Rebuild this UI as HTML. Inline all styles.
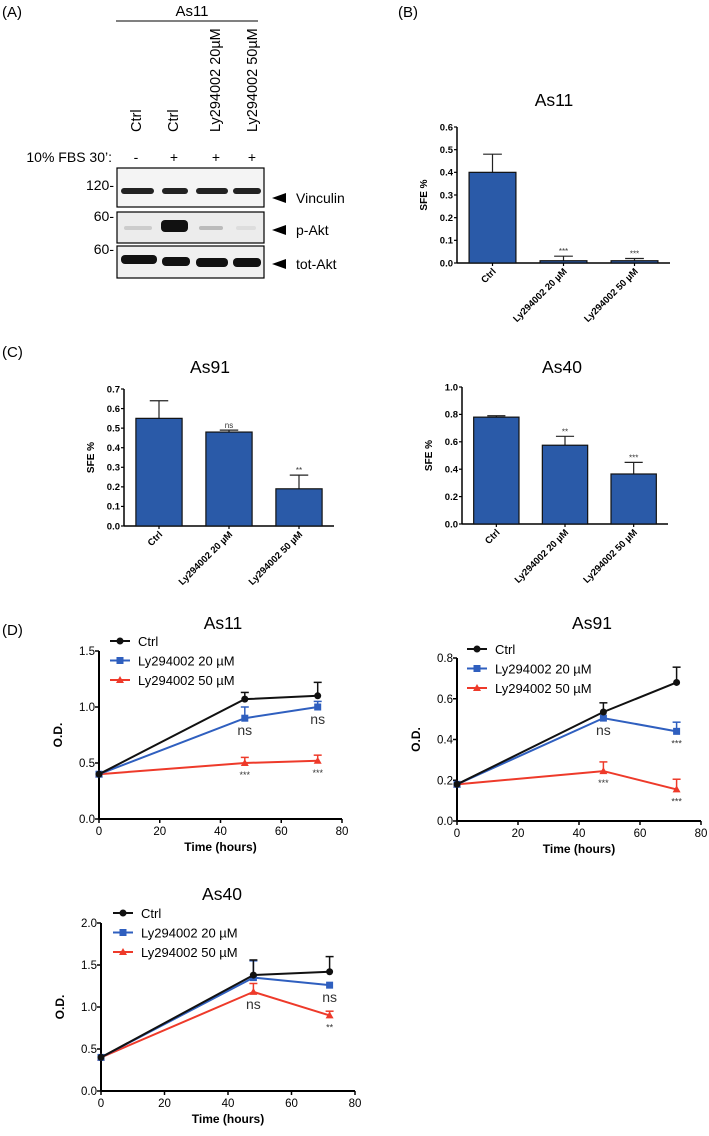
<!DOCTYPE html>
<html><head><meta charset="utf-8"><style>
body{margin:0;background:#fff}
svg{display:block;font-family:"Liberation Sans",Arial,sans-serif}
</style></head><body>
<svg id="fig" width="709" height="1136" viewBox="0 0 709 1136">
<g>
<text x="2" y="17" font-size="15">(A)</text>
<text x="192" y="16" font-size="15" text-anchor="middle">As11</text>
<line x1="116" y1="21" x2="258" y2="21" stroke="#000" stroke-width="1"/>
<g font-size="14.5">
<text transform="translate(141,132) rotate(-90)">Ctrl</text>
<text transform="translate(178,132) rotate(-90)">Ctrl</text>
<text transform="translate(220,132) rotate(-90)">Ly294002 20µM</text>
<text transform="translate(257,132) rotate(-90)">Ly294002 50µM</text>
</g>
<text x="112" y="162" font-size="14" text-anchor="end">10% FBS 30’:</text>
<g font-size="14" text-anchor="middle">
<text x="136" y="162">-</text><text x="174" y="162">+</text><text x="216" y="162">+</text><text x="252" y="162">+</text>
</g>
<g font-size="14" text-anchor="end">
<text x="114" y="190">120-</text><text x="114" y="221">60-</text><text x="114" y="254">60-</text>
</g>
<rect x="117" y="168" width="147" height="39" fill="#f4f4f4" stroke="#000" stroke-width="1.2"/>
<rect x="117" y="212" width="147" height="31" fill="#ececec" stroke="#000" stroke-width="1.2"/>
<rect x="117" y="246" width="147" height="32" fill="#f0f0f0" stroke="#000" stroke-width="1.2"/>
<g>
<rect x="121" y="188" width="33" height="6" rx="3" fill="#222"/><rect x="162" y="188" width="26" height="6" rx="3" fill="#222"/>
<rect x="196" y="188" width="32" height="6" rx="3" fill="#222"/><rect x="233" y="188" width="28" height="6" rx="3" fill="#222"/>
<rect x="124" y="226" width="28" height="4" rx="2" fill="#ccc"/><rect x="161" y="220" width="27" height="12" rx="4" fill="#111"/>
<rect x="199" y="226" width="24" height="4" rx="2" fill="#bbb"/><rect x="236" y="226" width="20" height="4" rx="2" fill="#ddd"/>
<rect x="121" y="255" width="36" height="9" rx="4" fill="#111"/><rect x="162" y="257" width="28" height="9" rx="4" fill="#111"/>
<rect x="196" y="258" width="32" height="9" rx="4" fill="#111"/><rect x="233" y="258" width="28" height="9" rx="4" fill="#111"/>
</g>
<g font-size="14">
<polygon points="272,198 286,193 286,203" fill="#000"/><text x="296" y="203">Vinculin</text>
<polygon points="272,230 286,225 286,235" fill="#000"/><text x="296" y="235">p-Akt</text>
<polygon points="272,264 286,259 286,269" fill="#000"/><text x="296" y="269">tot-Akt</text>
</g>
</g>
<text x="398" y="17" font-size="15">(B)</text>
<text x="2" y="357" font-size="15">(C)</text>
<text x="2" y="635" font-size="15">(D)</text>
<g id="charts"></g>
</svg>
<script>
const barCategories = ["Ctrl", "Ly294002 20 µM", "Ly294002 50 µM"];
const barB_values = [0.40, 0.01, 0.01];
const barB_errors = [0.08, 0.02, 0.01];
const barB_sig = ["", "***", "***"];
const barB_ticks = [0.0, 0.1, 0.2, 0.3, 0.4, 0.5, 0.6];
const barAs91_values = [0.55, 0.48, 0.19];
const barAs91_errors = [0.09, 0.01, 0.07];
const barAs91_sig = ["", "ns", "**"];
const barAs91_ticks = [0.0, 0.1, 0.2, 0.3, 0.4, 0.5, 0.6, 0.7];
const barAs40_values = [0.78, 0.575, 0.365];
const barAs40_errors = [0.01, 0.065, 0.085];
const barAs40_sig = ["", "**", "***"];
const barAs40_ticks = [0.0, 0.2, 0.4, 0.6, 0.8, 1.0];
const times = [0, 48, 72];
const xTicks = [0, 20, 40, 60, 80];
const seriesNames = ["Ctrl", "Ly294002 20 µM", "Ly294002 50 µM"];
const as11_ctrl = [0.40, 1.07, 1.10];
const as11_ctrlErr = [0, 0.06, 0.12];
const as11_ly20 = [0.40, 0.90, 1.00];
const as11_ly20Err = [0, 0.10, 0.05];
const as11_ly50 = [0.40, 0.50, 0.52];
const as11_ly50Err = [0, 0.05, 0.05];
const as11_ly20Sig = ["", "ns", "ns"];
const as11_ly50Sig = ["", "***", "***"];
const as11_yTicks = [0.0, 0.5, 1.0, 1.5];
const as91_ctrl = [0.18, 0.535, 0.68];
const as91_ctrlErr = [0, 0.045, 0.075];
const as91_ly20 = [0.18, 0.505, 0.44];
const as91_ly20Err = [0, 0.0, 0.045];
const as91_ly50 = [0.18, 0.245, 0.155];
const as91_ly50Err = [0, 0.045, 0.05];
const as91_ly20Sig = ["", "ns", "***"];
const as91_ly50Sig = ["", "***", "***"];
const as91_yTicks = [0.0, 0.2, 0.4, 0.6, 0.8];
const as40_ctrl = [0.40, 1.38, 1.42];
const as40_ctrlErr = [0, 0.18, 0.18];
const as40_ly20 = [0.40, 1.35, 1.26];
const as40_ly20Err = [0, 0.2, 0.0];
const as40_ly50 = [0.40, 1.18, 0.90];
const as40_ly50Err = [0, 0.1, 0.05];
const as40_ly20Sig = ["", "", "ns"];
const as40_ly50Sig = ["", "ns", "**"];
const as40_yTicks = [0.0, 0.5, 1.0, 1.5, 2.0];

const NS = "http://www.w3.org/2000/svg";
const root = document.getElementById("charts");
function el(tag, attrs, parent, text) {
  const e = document.createElementNS(NS, tag);
  for (const k in attrs) e.setAttribute(k, attrs[k]);
  if (text !== undefined) e.textContent = text;
  (parent || root).appendChild(e);
  return e;
}

function barChart(cfg, values, errors, sig, ticks) {
  const g = el("g", {});
  
  
  const yMax = ticks[ticks.length - 1];
  const y = v => cfg.y0 - (v / yMax) * (cfg.y0 - cfg.yTop);
  const t = el("text", {x: cfg.titleX, y: cfg.titleY, "font-size": 17.5, "text-anchor": "middle"}, g, cfg.title);
  
  
  el("line", {x1: cfg.ax, y1: cfg.yTop, x2: cfg.ax, y2: cfg.y0, stroke: "#000", "stroke-width": 1.5}, g);
  el("line", {x1: cfg.ax, y1: cfg.y0, x2: cfg.xEnd, y2: cfg.y0, stroke: "#000", "stroke-width": 1.5}, g);
  ticks.forEach(v => {
    el("line", {x1: cfg.ax - 3, y1: y(v), x2: cfg.ax, y2: y(v), stroke: "#000", "stroke-width": 1.2}, g);
    const tl = el("text", {x: cfg.ax - 4, y: y(v) + 3.3, "font-size": 9.5, "font-weight": "bold", "text-anchor": "end"}, g, v.toFixed(1));
    
    
  });
  const yt = el("text", {transform: `translate(${cfg.ax - 30},${(cfg.y0 + cfg.yTop) / 2}) rotate(-90)`, "font-size": 10, "font-weight": "bold", "text-anchor": "middle"}, g, "SFE %");
  
  
  const slot = (cfg.xEnd - cfg.ax) / values.length;
  values.forEach((v, i) => {
    const cx = cfg.ax + slot * (i + 0.5);
    const bw = slot * 0.66;
    const top = y(v + errors[i]);
    el("line", {x1: cx, y1: y(v), x2: cx, y2: top, stroke: "#222", "stroke-width": 1.2}, g);
    el("line", {x1: cx - bw * 0.2, y1: top, x2: cx + bw * 0.2, y2: top, stroke: "#222", "stroke-width": 1.2}, g);
    const b = el("rect", {x: cx - bw / 2, y: y(v), width: bw, height: Math.max(cfg.y0 - y(v), 0.5), fill: "#2a5aa8", stroke: "#111", "stroke-width": 1.2}, g);
    
    
    el("line", {x1: cx, y1: cfg.y0, x2: cx, y2: cfg.y0 + 3, stroke: "#000", "stroke-width": 1.2}, g);
    if (sig[i]) {
      const s = el("text", {x: cx, y: top - 2, "font-size": 8, "text-anchor": "middle", fill: "#333"}, g, sig[i]);
      
      
    }
    const xl = el("text", {transform: `translate(${cx + 4},${cfg.y0 + 9}) rotate(-45)`, "font-size": 9.5, "font-weight": "bold", "text-anchor": "end"}, g, barCategories[i]);
    
    
  });
}

const colors = ["#111111", "#2f5fbf", "#ee3a2a"];
function marker(g, k, x, y) {
  if (k === 0) el("circle", {cx: x, cy: y, r: 3.5, fill: colors[0]}, g);
  else if (k === 1) el("rect", {x: x - 3.5, y: y - 3.5, width: 7, height: 7, fill: colors[1]}, g);
  else el("polygon", {points: `${x},${y - 4} ${x - 4},${y + 3} ${x + 4},${y + 3}`, fill: colors[2]}, g);
}
function lineChart(cfg, series, errs, sigs, yTicks) {
  const g = el("g", {});
  
  
  const yMax = yTicks[yTicks.length - 1];
  const xMax = xTicks[xTicks.length - 1];
  const X = v => cfg.x0 + (v / xMax) * (cfg.x1 - cfg.x0);
  const Y = v => cfg.y0 - (v / yMax) * (cfg.y0 - cfg.yTop);
  const t = el("text", {x: cfg.titleX, y: cfg.titleY, "font-size": 17.5, "text-anchor": "middle"}, g, cfg.title);
  
  
  el("line", {x1: cfg.x0, y1: cfg.yTop, x2: cfg.x0, y2: cfg.y0, stroke: "#000", "stroke-width": 2}, g);
  el("line", {x1: cfg.x0, y1: cfg.y0, x2: cfg.x1, y2: cfg.y0, stroke: "#000", "stroke-width": 2}, g);
  yTicks.forEach(v => {
    el("line", {x1: cfg.x0 - 4, y1: Y(v), x2: cfg.x0, y2: Y(v), stroke: "#000", "stroke-width": 1.5}, g);
    const tl = el("text", {x: cfg.x0 - 4, y: Y(v) + 4, "font-size": 11.5, "text-anchor": "end"}, g, v.toFixed(1));
    
    
  });
  xTicks.forEach(v => {
    el("line", {x1: X(v), y1: cfg.y0, x2: X(v), y2: cfg.y0 + 4, stroke: "#000", "stroke-width": 1.5}, g);
    const tl = el("text", {x: X(v), y: cfg.y0 + 16, "font-size": 11.5, "text-anchor": "middle"}, g, String(v));
    
    
  });
  const xt = el("text", {x: (cfg.x0 + cfg.x1) / 2, y: cfg.y0 + 32, "font-size": 12, "font-weight": "bold", "text-anchor": "middle"}, g, "Time (hours)");
  
  
  const yt = el("text", {transform: `translate(${cfg.x0 - 37},${(cfg.y0 + cfg.yTop) / 2}) rotate(-90)`, "font-size": 12, "font-weight": "bold", "text-anchor": "middle"}, g, "O.D.");
  
  
  [2, 1, 0].forEach(k => {
    const sg = el("g", {}, g);
    
    
    const vals = series[k];
    el("polyline", {points: vals.map((v, i) => X(times[i]) + "," + Y(v)).join(" "), fill: "none", stroke: colors[k], "stroke-width": 2}, sg);
    vals.forEach((v, i) => {
      const e = errs[k][i];
      if (e > 0) {
        el("line", {x1: X(times[i]), y1: Y(v), x2: X(times[i]), y2: Y(v + e), stroke: colors[k], "stroke-width": 1.5}, sg);
        el("line", {x1: X(times[i]) - 4, y1: Y(v + e), x2: X(times[i]) + 4, y2: Y(v + e), stroke: colors[k], "stroke-width": 1.5}, sg);
      }
      marker(sg, k, X(times[i]), Y(v));
    });
  });
  [[1, sigs[0]], [2, sigs[1]]].forEach(([k, arr]) => {
    arr.forEach((s, i) => {
      if (!s) return;
      const isNs = s === "ns";
      const a = el("text", {x: X(times[i]), y: Y(series[k][i]) + (isNs ? 17 : 15), "font-size": isNs ? 14 : 9, "text-anchor": "middle", fill: "#333"}, g, s);
      
      
    });
  });
  const lg = el("g", {}, g);
  
  
  seriesNames.forEach((n, k) => {
    const ly = cfg.legY + k * 19.5;
    el("line", {x1: cfg.legX, y1: ly, x2: cfg.legX + 20, y2: ly, stroke: colors[k], "stroke-width": 2}, lg);
    marker(lg, k, cfg.legX + 10, ly);
    const lt = el("text", {x: cfg.legX + 28, y: ly + 5, "font-size": 13}, lg, n);
    
    
  });
}

barChart({name: "chart-b-as11", title: "As11", titleX: 554, titleY: 106, ax: 457, xEnd: 670, yTop: 127, y0: 263}, barB_values, barB_errors, barB_sig, barB_ticks);
barChart({name: "chart-c-as91", title: "As91", titleX: 210, titleY: 373, ax: 124, xEnd: 334, yTop: 389, y0: 526}, barAs91_values, barAs91_errors, barAs91_sig, barAs91_ticks);
barChart({name: "chart-c-as40", title: "As40", titleX: 562, titleY: 373, ax: 462, xEnd: 668, yTop: 387, y0: 524}, barAs40_values, barAs40_errors, barAs40_sig, barAs40_ticks);

lineChart({name: "chart-d-as11", title: "As11", titleX: 223, titleY: 629, x0: 99, x1: 342, yTop: 651, y0: 819, legX: 110, legY: 641},
  [as11_ctrl, as11_ly20, as11_ly50], [as11_ctrlErr, as11_ly20Err, as11_ly50Err], [as11_ly20Sig, as11_ly50Sig], as11_yTicks);
lineChart({name: "chart-d-as91", title: "As91", titleX: 592, titleY: 629, x0: 457, x1: 701, yTop: 658, y0: 821, legX: 467, legY: 649},
  [as91_ctrl, as91_ly20, as91_ly50], [as91_ctrlErr, as91_ly20Err, as91_ly50Err], [as91_ly20Sig, as91_ly50Sig], as91_yTicks);
lineChart({name: "chart-d-as40", title: "As40", titleX: 222, titleY: 900, x0: 101, x1: 355, yTop: 923, y0: 1091, legX: 113, legY: 913},
  [as40_ctrl, as40_ly20, as40_ly50], [as40_ctrlErr, as40_ly20Err, as40_ly50Err], [as40_ly20Sig, as40_ly50Sig], as40_yTicks);
</script>
</body></html>
